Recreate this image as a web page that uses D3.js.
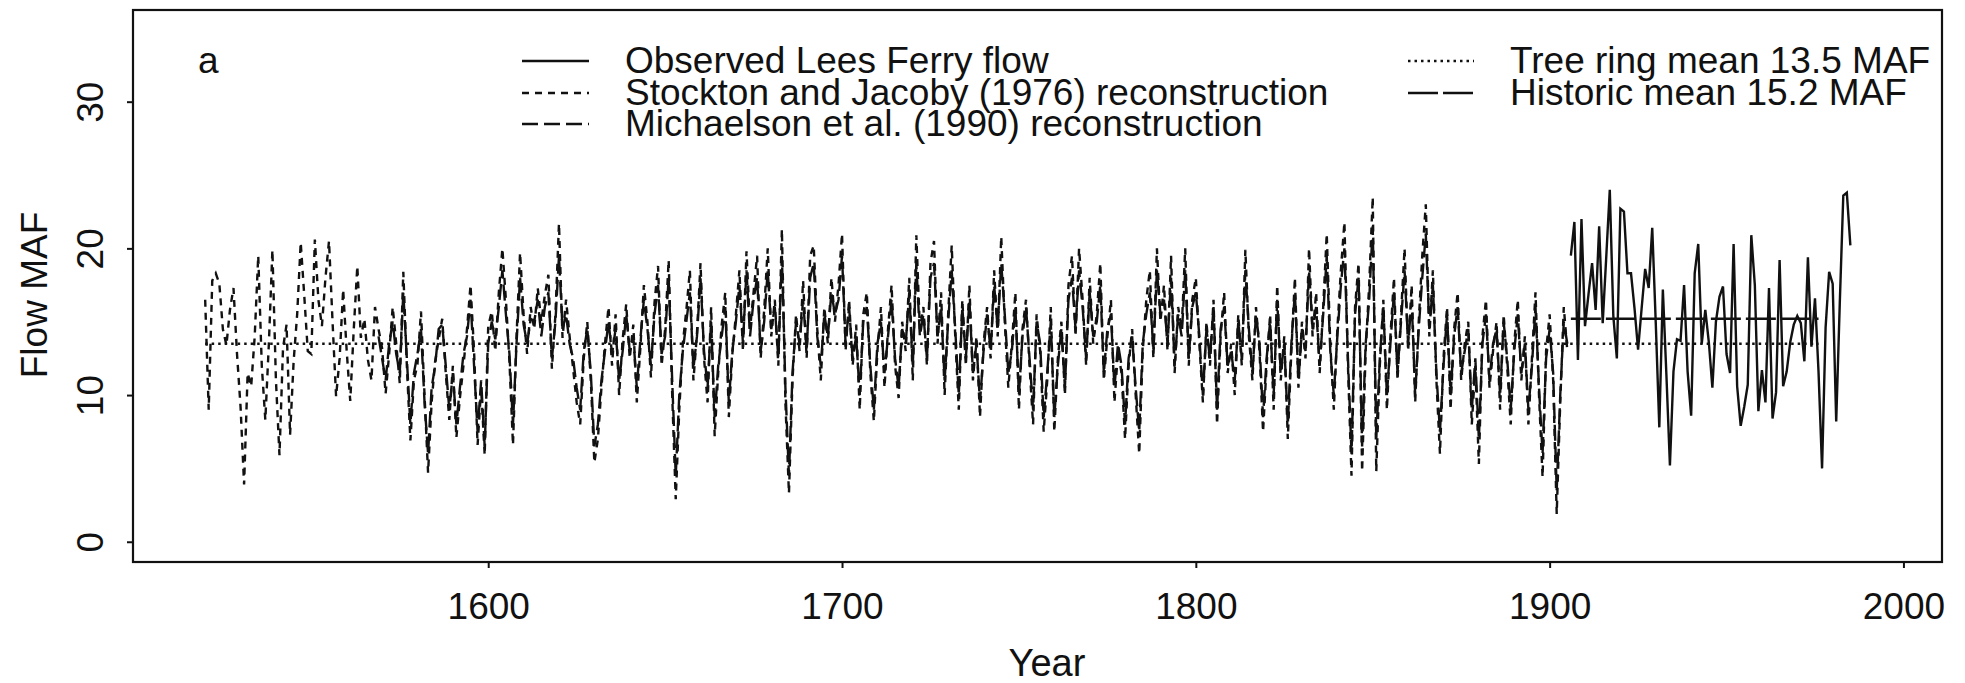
<!DOCTYPE html>
<html>
<head>
<meta charset="utf-8">
<script src="https://cdn.jsdelivr.net/npm/d3@7"></script>
<style>
  body { margin: 0; background: #fff; }
  text { font-family: "Liberation Sans", Arial, sans-serif; fill: #111; }
</style>
</head>
<body>
<script>
const width = 1965, height = 683;

// ---- data (MAF, one value per year) ----
const stocktonStart = 1520;
const stocktonFlow = [
  16.5, 9.0, 17.8, 18.3, 17.6, 14.5, 13.4, 15.8, 17.3, 12.8,
  9.2, 3.9, 11.5, 10.6, 14.0, 19.5, 12.0, 8.3, 13.5, 19.9,
  11.0, 5.9, 13.2, 14.8, 7.3, 12.3, 15.5, 20.4, 16.8, 13.0,
  12.8, 20.6, 16.5, 14.7, 18.0, 20.5, 15.0, 9.9, 12.5, 17.2,
  13.0, 9.6, 14.5, 18.8, 13.9, 15.2, 12.4, 11.0, 16.0, 14.5,
  13.2, 10.1, 12.8, 16.0, 13.5, 10.8, 18.4, 12.0, 6.9, 11.0,
  12.1, 15.7, 10.0, 4.7, 9.5, 12.3, 13.8, 15.2, 11.5, 8.3,
  12.0, 7.1, 9.8, 12.0, 14.5, 17.5, 13.0, 6.6, 10.5, 5.9,
  14.7, 15.7, 13.0, 17.0, 20.0, 16.5, 12.3, 6.6, 14.0, 19.7,
  15.5, 12.8, 16.0, 14.5, 17.3, 15.0, 16.8, 18.2, 11.8, 15.5,
  21.7, 13.9, 16.5, 14.0, 11.8, 9.5, 8.0, 12.5, 15.0, 11.0,
  5.4, 7.0, 10.5, 13.5, 16.0, 12.0, 15.5, 10.0, 13.8, 16.2,
  12.5, 14.8, 9.5, 13.2, 17.5, 15.0, 11.2, 16.3, 18.8, 12.0,
  14.5, 19.2, 10.0, 2.9, 9.0, 13.5, 15.8, 18.5, 11.0, 14.2,
  19.0, 12.5, 9.5, 16.0, 7.2, 11.5, 14.8, 17.0, 8.5, 12.8,
  15.5, 18.5, 13.0, 19.8, 14.5, 17.0, 19.5, 12.5, 15.8, 20.0,
  14.0, 16.5, 12.0, 21.3, 9.5, 3.3, 11.0, 15.5, 13.0, 17.8,
  12.5, 19.5, 20.2, 14.5, 11.0, 16.0, 13.5, 18.0, 15.0, 17.5,
  21.0, 13.0, 16.5, 12.0, 14.8, 9.0, 15.5, 17.0, 11.5, 8.2,
  13.0, 16.0, 10.5, 14.5, 17.5, 12.0, 9.8, 15.0, 13.0, 18.0,
  11.0, 20.9, 14.5, 16.0, 12.0, 19.0, 20.5, 13.5, 17.0, 10.0,
  15.5, 20.2, 14.0, 9.0, 16.5, 12.0, 17.5, 11.0, 14.0, 8.5,
  13.5, 16.0, 12.5, 18.5, 14.0, 20.8, 15.0, 10.5, 13.5, 17.0,
  9.0, 14.5, 16.5, 12.0, 8.0, 15.5, 13.0, 7.5, 11.0, 16.0,
  7.5, 12.5, 15.0, 10.0, 17.5, 19.5, 14.0, 20.0, 16.5, 12.0,
  18.0, 13.5, 15.5, 19.0, 11.0, 14.0, 16.5, 9.5, 13.0, 11.5,
  7.0, 12.0, 14.5, 10.0, 6.0, 13.0, 16.5, 18.5, 12.5, 20.0,
  15.0, 17.5, 13.0, 19.5, 11.5, 16.0, 14.5, 20.0, 12.0, 16.5,
  18.0, 13.5, 9.5, 15.0, 12.0, 16.5, 8.0, 14.0, 17.0, 11.5,
  13.5, 10.0, 15.5, 12.0, 19.9, 14.0, 11.0, 16.0, 13.0, 7.5,
  12.0, 15.5, 9.0, 17.5, 11.0, 14.0, 7.0, 13.0, 18.0, 10.5,
  15.0, 12.5, 20.0, 14.0, 17.0, 11.5, 16.0, 21.0, 13.5, 9.0,
  14.5, 18.5, 21.8, 12.0, 4.5, 16.0, 19.0, 4.8, 13.0, 17.5,
  23.5, 4.8, 12.0, 16.5, 9.0, 14.0, 18.0, 11.0, 15.5, 20.0,
  13.0, 17.5, 9.5, 15.0, 19.5, 23.0, 14.0, 18.5, 11.0, 6.0,
  12.5, 16.0, 9.0, 14.5, 17.0, 11.0, 13.5, 15.0, 8.0, 12.0,
  5.3, 14.0, 16.5, 10.5, 13.0, 15.0, 9.0, 15.5, 12.0, 8.0,
  13.5, 16.5, 11.0, 14.0, 8.0, 12.5, 17.0, 10.0, 4.4, 13.0,
  15.5, 11.0, 1.9, 9.5, 16.0, 13.0
];

const michaelsonStart = 1569;
const michaelsonFlow = [
  14.0,
  12.5, 11.0, 13.5, 15.0, 12.8, 11.5, 17.0, 12.5, 8.0, 11.5,
  12.8, 14.5, 9.5, 6.0, 10.5, 12.0, 14.5, 14.8, 12.0, 9.0,
  11.5, 8.0, 10.5, 12.8, 14.0, 16.5, 12.0, 7.5, 11.0, 6.5,
  13.5, 15.0, 13.8, 16.0, 18.5, 15.5, 12.8, 8.0, 13.5, 18.0,
  14.8, 13.5, 15.2, 15.0, 16.5, 14.0, 16.0, 17.0, 12.5, 15.0,
  19.5, 14.5, 15.5, 13.5, 12.5, 10.5, 9.0, 13.0, 14.5, 11.5,
  6.5, 8.0, 11.0, 13.0, 15.0, 12.8, 14.5, 11.0, 13.0, 15.5,
  13.0, 14.0, 10.5, 13.8, 16.5, 14.5, 12.0, 15.5, 17.5, 12.8,
  14.0, 18.0, 11.0, 4.5, 10.0, 13.0, 15.0, 17.0, 11.8, 14.0,
  18.0, 13.0, 10.5, 15.0, 8.5, 12.0, 14.0, 16.0, 9.5, 13.0,
  15.0, 17.5, 13.5, 18.5, 14.0, 16.5, 18.0, 13.0, 15.0, 18.5,
  14.5, 16.0, 12.5, 19.5, 10.5, 4.5, 11.5, 15.0, 13.5, 16.5,
  13.0, 18.0, 19.0, 14.0, 12.0, 15.5, 14.0, 17.0, 15.5, 16.5,
  19.5, 13.5, 16.0, 12.5, 14.0, 10.0, 15.0, 16.0, 12.0, 9.0,
  13.5, 15.0, 11.5, 14.0, 16.5, 12.5, 10.5, 14.5, 13.5, 17.0,
  12.0, 19.0, 14.0, 15.5, 12.5, 18.0, 19.0, 14.0, 16.0, 11.0,
  15.0, 18.5, 14.5, 10.0, 16.0, 12.5, 16.5, 11.5, 13.5, 9.5,
  13.0, 15.5, 13.0, 17.5, 14.5, 19.0, 15.5, 11.5, 13.0, 16.0,
  10.0, 14.0, 16.0, 12.5, 9.0, 15.0, 13.5, 8.5, 11.5, 15.0,
  8.5, 12.0, 14.5, 10.5, 16.5, 18.0, 14.5, 18.5, 16.0, 12.5,
  17.0, 14.0, 15.0, 17.5, 11.5, 14.5, 15.5, 10.5, 13.5, 12.0,
  8.0, 12.5, 14.0, 10.5, 7.5, 13.5, 15.5, 17.0, 13.0, 18.5,
  15.5, 16.5, 13.5, 18.0, 12.0, 15.5, 14.0, 18.5, 12.5, 16.0,
  17.0, 14.0, 10.0, 14.5, 12.5, 16.0, 9.0, 14.5, 16.0, 12.0,
  13.0, 11.0, 15.0, 12.5, 18.5, 14.5, 11.5, 15.5, 13.5, 8.5,
  12.5, 15.0, 10.0, 16.5, 11.5, 13.5, 8.0, 13.5, 17.0, 11.0,
  14.5, 13.0, 18.5, 14.5, 16.0, 12.0, 15.5, 19.5, 13.0, 10.0,
  14.0, 17.5, 20.0, 12.5, 6.0, 15.5, 18.0, 6.5, 13.5, 16.5,
  21.5, 7.0, 12.5, 16.0, 10.0, 13.5, 17.0, 11.5, 15.0, 18.5,
  13.5, 16.5, 10.0, 14.5, 18.0, 21.0, 14.5, 17.5, 11.5, 7.5,
  12.0, 15.5, 10.0, 14.0, 16.0, 11.5, 13.0, 14.5, 9.0, 12.5,
  7.0, 13.5, 15.5, 11.0, 13.5, 14.5, 10.0, 15.0, 12.5, 9.0,
  13.0, 15.5, 11.5, 13.5, 9.0, 12.0, 16.0, 10.5, 6.0, 12.5,
  14.5, 11.5, 3.5, 10.0, 15.0, 13.5
];

const observedStart = 1906;
const observedFlow = [
  19.5, 21.8, 12.4, 22.0, 14.7, 16.9, 19.0, 15.8, 21.5, 14.9,
  19.4, 24.0, 15.4, 12.5, 22.7, 22.5, 18.3, 18.3, 15.9, 13.1,
  15.9, 18.6, 17.3, 21.4, 14.9, 7.8, 17.2, 11.4, 5.2, 11.6,
  13.8, 13.7, 17.5, 11.6, 8.6, 18.3, 20.3, 13.5, 15.8, 13.6,
  10.5, 15.0, 16.7, 17.4, 12.8, 11.5, 20.3, 10.6, 7.9, 9.2,
  10.7, 20.9, 17.5, 8.9, 11.7, 9.5, 17.3, 8.4, 10.2, 19.2,
  10.6, 11.6, 13.6, 14.8, 15.4, 14.9, 12.3, 19.4, 13.3, 16.6,
  11.6, 5.0, 14.6, 18.4, 17.6, 8.2, 16.2, 23.6, 23.8, 20.2
];

const treeRingMean = 13.5, treeRingYears = [1520, 1976];
const historicMean = 15.2, historicYears = [1906, 1976];

const xTicks = [1600, 1700, 1800, 1900, 2000];
const yTicks = [0, 10, 20, 30];

const legendLeft = [
  "Observed Lees Ferry flow",
  "Stockton and Jacoby (1976) reconstruction",
  "Michaelson et al. (1990) reconstruction"
];
const legendRight = ["Tree ring mean 13.5 MAF", "Historic mean 15.2 MAF"];

// ---- styles ----
const dashStockton = "7,6", dashMichaelson = "16,6", dashTree = "2.5,4", dashHistoric = "30,5";

const svg = d3.select("body").append("svg").attr("width", width).attr("height", height);

const x = d3.scaleLinear().domain([1499.6, 2010.9]).range([133, 1942]);
const y = d3.scaleLinear().domain([-1.38, 36.25]).range([562, 10]);

const toPoints = (start, vals) => vals.map((v, i) => [start + i, v]);
const line = d3.line().x(d => x(d[0])).y(d => y(d[1]));

const plot = svg.append("g");

// mean lines
plot.append("path")
    .attr("d", line(treeRingYears.map(yr => [yr, treeRingMean])))
    .attr("fill", "none").attr("stroke", "#111").attr("stroke-width", 2.4)
    .attr("stroke-dasharray", dashTree);

plot.append("path")
    .attr("d", line(toPoints(stocktonStart, stocktonFlow)))
    .attr("fill", "none").attr("stroke", "#111").attr("stroke-width", 2.4)
    .attr("stroke-dasharray", dashStockton);

plot.append("path")
    .attr("d", line(toPoints(michaelsonStart, michaelsonFlow)))
    .attr("fill", "none").attr("stroke", "#111").attr("stroke-width", 2.4)
    .attr("stroke-dasharray", dashMichaelson);

plot.append("path")
    .attr("d", line(toPoints(observedStart, observedFlow)))
    .attr("fill", "none").attr("stroke", "#111").attr("stroke-width", 2.4);

plot.append("path")
    .attr("d", line(historicYears.map(yr => [yr, historicMean])))
    .attr("fill", "none").attr("stroke", "#111").attr("stroke-width", 2.4)
    .attr("stroke-dasharray", dashHistoric);

// frame
svg.append("rect")
   .attr("x", 133).attr("y", 10).attr("width", 1942 - 133).attr("height", 562 - 10)
   .attr("fill", "none").attr("stroke", "#111").attr("stroke-width", 2.2);

// axes
const xAxis = svg.append("g")
    .attr("transform", `translate(0,562)`)
    .call(d3.axisBottom(x).tickValues(xTicks).tickFormat(d3.format("d")).tickSize(6).tickSizeOuter(0).tickPadding(25));
xAxis.select(".domain").remove();
xAxis.selectAll("line").attr("stroke", "#111").attr("stroke-width", 2);
xAxis.selectAll("text").style("font-size", "37px").attr("fill", "#111");

const yAxis = svg.append("g")
    .attr("transform", `translate(133,0)`)
    .call(d3.axisLeft(y).tickValues(yTicks).tickSize(6).tickSizeOuter(0));
yAxis.select(".domain").remove();
yAxis.selectAll("line").attr("stroke", "#111").attr("stroke-width", 2);
yAxis.selectAll("text")
     .attr("x", null).attr("dy", null)
     .attr("text-anchor", "middle")
     .attr("transform", "translate(-30,0) rotate(-90)")
     .style("font-size", "37px").attr("fill", "#111");

// axis titles
svg.append("text")
   .attr("x", 1047).attr("y", 676)
   .attr("text-anchor", "middle")
   .style("font-size", "38px")
   .text("Year");

svg.append("text")
   .attr("transform", "translate(47,295) rotate(-90)")
   .attr("text-anchor", "middle")
   .style("font-size", "37px")
   .text("Flow MAF");

// panel letter
svg.append("text").attr("x", 198).attr("y", 73).style("font-size", "37px").text("a");

// legend
const rowY = [61, 93, 124];
const leftDashes = [null, dashStockton, dashMichaelson];
const rightDashes = [dashTree, dashHistoric];

const legL = svg.append("g");
legendLeft.forEach((label, i) => {
  legL.append("line")
      .attr("x1", 522).attr("x2", 589).attr("y1", rowY[i]).attr("y2", rowY[i])
      .attr("stroke", "#111").attr("stroke-width", 2.4)
      .attr("stroke-dasharray", leftDashes[i]);
  legL.append("text")
      .attr("x", 625).attr("y", rowY[i] + 12)
      .style("font-size", "37px")
      .text(label);
});

const legR = svg.append("g");
legendRight.forEach((label, i) => {
  legR.append("line")
      .attr("x1", 1408).attr("x2", 1474).attr("y1", rowY[i]).attr("y2", rowY[i])
      .attr("stroke", "#111").attr("stroke-width", 2.4)
      .attr("stroke-dasharray", rightDashes[i]);
  legR.append("text")
      .attr("x", 1510).attr("y", rowY[i] + 12)
      .style("font-size", "37px")
      .text(label);
});
</script>
</body>
</html>
